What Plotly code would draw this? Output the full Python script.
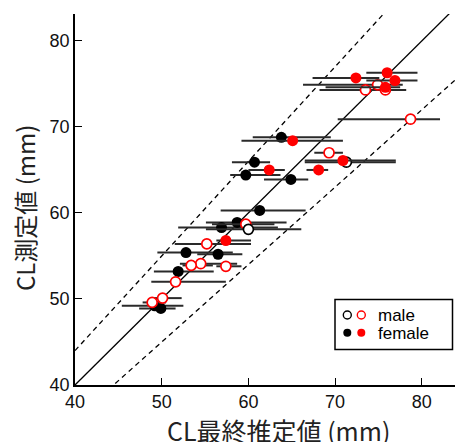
import plotly.graph_objects as go

# ---- data ----
# male, black open
mb_x = [60.0, 71.3]
mb_y = [58.1, 65.9]
mb_lo = [55.1, 66.5]
mb_hi = [66.1, 77.0]

# male, red open
mr_x = [74.9, 75.8, 73.5, 78.7, 69.3, 59.7, 55.2, 54.5, 53.4, 57.4, 51.6, 50.1, 48.9]
mr_y = [74.9, 74.3, 74.3, 70.9, 67.0, 58.7, 56.4, 54.1, 53.9, 53.8, 52.0, 50.1, 49.6]
mr_lo = [66.3, 68.2, 68.6, 70.3, 67.6, 55.8, 51.5, 52.1, 52.4, 56.3, 48.8, 48.9, 47.8]
mr_hi = [77.8, 78.2, 77.0, 82.1, 70.9, 63.0, 60.3, 58.7, 55.9, 59.2, 57.4, 52.3, 50.5]

# female, black filled
fb_x = [63.8, 60.7, 59.7, 64.9, 61.3, 58.7, 56.9, 52.8, 56.5, 51.9, 49.2, 49.9]
fb_y = [68.8, 65.9, 64.4, 63.9, 60.3, 58.9, 58.3, 55.4, 55.2, 53.2, 49.2, 48.9]
fb_lo = [60.5, 58.1, 57.9, 61.8, 56.8, 55.1, 51.9, 49.5, 54.1, 49.1, 45.4, 47.4]
fb_hi = [69.5, 62.5, 63.7, 66.9, 66.6, 64.4, 63.4, 58.2, 59.3, 56.0, 52.5, 51.6]

# female, red filled
fr_x = [72.4, 76.0, 76.9, 75.8, 65.1, 70.9, 62.4, 68.1, 57.4]
fr_y = [75.7, 76.3, 75.4, 74.6, 68.4, 66.1, 65.0, 65.0, 56.8]
fr_lo = [67.4, 73.6, 73.6, 68.9, 59.2, 66.5, 60.0, 66.7, 56.3]
fr_hi = [75.1, 79.5, 79.5, 77.5, 70.9, 77.0, 64.2, 69.2, 60.3]

ref_slopes = [1.0, 1.1, 0.9]
ref_dash = ["solid", "5px,4px", "5px,4px"]

x_ticks = [40, 50, 60, 70, 80]
y_ticks = [40, 50, 60, 70, 80]
x_range = [40, 84.75]
y_range = [40, 83.13]

fig = go.Figure()

# reference lines
for s, d in zip(ref_slopes, ref_dash):
    xs = [x_range[0], x_range[1]]
    ys = [s * v for v in xs]
    fig.add_trace(go.Scatter(x=xs, y=ys, mode="lines",
                             line=dict(color="black", width=1.3, dash=d),
                             hoverinfo="skip", showlegend=False, cliponaxis=True))

def add_group(xs, ys, lo, hi, color, filled):
    plus = [h - x for x, h in zip(xs, hi)]
    minus = [x - l for x, l in zip(xs, lo)]
    fig.add_trace(go.Scatter(
        x=xs, y=ys, mode="markers", showlegend=False,
        error_x=dict(type="data", symmetric=False, array=plus, arrayminus=minus,
                     color="#2a2a2a", thickness=2, width=0),
        marker=dict(size=11 if filled else 10,
                    color=color if filled else "white",
                    line=dict(color=color, width=0 if filled else 1.7)),
    ))

add_group(fb_x, fb_y, fb_lo, fb_hi, "black", True)
add_group(mr_x, mr_y, mr_lo, mr_hi, "#ff0000", False)
add_group(mb_x, mb_y, mb_lo, mb_hi, "black", False)
add_group(fr_x, fr_y, fr_lo, fr_hi, "#ff0000", True)

# window coordinates of the plot area (page body has an 8px margin)
OFF = 8
WIN_W, WIN_H = 463, 442
PL, PR, PT, PB = 75, 463, 14, 385
W, H = WIN_W - OFF, WIN_H - OFF
pw, ph = PR - PL, PB - PT

def px(xp):
    return (xp - PL) / pw

def py(yp):
    return (PB - yp) / ph

shapes = []
# legend box
shapes.append(dict(type="rect", xref="paper", yref="paper",
                   x0=px(335), x1=px(452.5), y0=py(349.5), y1=py(299.5),
                   line=dict(color="black", width=1.5), fillcolor="white"))
for cx, cy, col, filled in [(347.3, 315, "black", False), (361.3, 315, "#ff0000", False),
                            (347.3, 332.7, "black", True), (361.3, 332.7, "#ff0000", True)]:
    r = 4.0
    shapes.append(dict(type="circle", xref="paper", yref="paper",
                       x0=px(cx - r), x1=px(cx + r), y0=py(cy + r), y1=py(cy - r),
                       line=dict(color=col, width=0 if filled else 1.4),
                       fillcolor=col if filled else "white"))

annotations = [
    dict(text="male", xref="paper", yref="paper", x=px(376), y=py(315.5),
         xanchor="left", yanchor="middle", showarrow=False,
         font=dict(family="Liberation Sans, Arial", size=17, color="black")),
    dict(text="female", xref="paper", yref="paper", x=px(376), y=py(333.5),
         xanchor="left", yanchor="middle", showarrow=False,
         font=dict(family="Liberation Sans, Arial", size=17, color="black")),
    dict(text="CL最終推定値 (mm)", xref="paper", yref="paper", x=px(278), y=py(430),
         xanchor="center", yanchor="middle", showarrow=False,
         font=dict(family="Noto Sans CJK JP", size=25, color="#222")),
    dict(text="CL測定値 (mm)", xref="paper", yref="paper", x=px(24), y=py(208),
         xanchor="center", yanchor="middle", showarrow=False, textangle=-90,
         font=dict(family="Noto Sans CJK JP", size=24, color="#222")),
]

axis_common = dict(showgrid=False, zeroline=False, showline=True, linecolor="black",
                   linewidth=1.5, ticks="inside", ticklen=7, tickwidth=1.3,
                   tickcolor="black",
                   tickfont=dict(family="Liberation Sans, Arial", size=18, color="#111"))

fig.update_layout(
    width=W, height=H,
    margin=dict(l=PL - OFF, r=WIN_W - PR, t=PT - OFF, b=H - (PB - OFF)),
    plot_bgcolor="white", paper_bgcolor="white",
    xaxis=dict(range=x_range, tickvals=x_ticks, **axis_common),
    yaxis=dict(range=y_range, tickvals=y_ticks, **axis_common),
    shapes=shapes, annotations=annotations, showlegend=False,
)

fig.write_html("out.html")
